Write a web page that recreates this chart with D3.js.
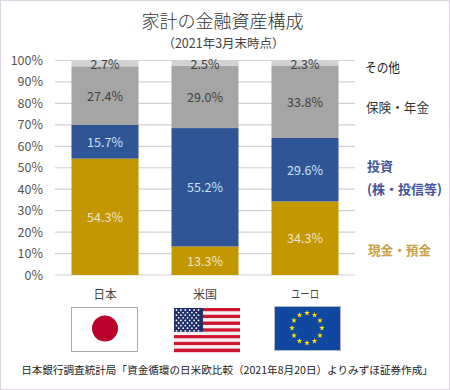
<!DOCTYPE html>
<html><head><meta charset="utf-8">
<script src="https://cdn.jsdelivr.net/npm/d3@7"></script>
<style>html,body{margin:0;padding:0;background:#fff}svg{display:block}text{font-family:"Noto Sans CJK JP","Noto Sans",sans-serif}</style>
</head><body><div id="c"></div>
<script>
const countries = ["日本","米国","ユーロ"];
const seriesKeys = ["現金・預金","投資","保険・年金","その他"];
const cash = [54.3,13.3,34.3];
const invest = [15.7,55.2,29.6];
const insurance = [27.4,29.0,33.8];
const other = [2.7,2.5,2.3];
const colors = ["#C29700","#2F5597","#A5A5A5","#D2D2D2"];
const labelColors = ["#F0E6C8","#CFE0F2","#404040","#404040"];
const yTicks = [0,10,20,30,40,50,60,70,80,90,100];
const euStars = d3.range(12);

const W=450,H=390;
const svg=d3.select("#c").append("svg").attr("width",W).attr("height",H);
svg.append("rect").attr("x",0.5).attr("y",0.5).attr("width",W-1).attr("height",H-1)
  .attr("fill","#fff").attr("stroke","#b9a9c4").attr("stroke-dasharray","1 1");

svg.append("text").attr("x",222.5).attr("y",28).attr("text-anchor","middle").attr("font-size",18).attr("font-weight",300).attr("fill","#333").text("家計の金融資産構成");
svg.append("text").attr("x",223.5).attr("y",47.5).attr("text-anchor","middle").attr("font-size",12.5).attr("fill","#444").text("（2021年3月末時点）");

const x=d3.scaleBand().domain(countries).range([55,355]).paddingInner(0.33).paddingOuter(0.165);
const y=d3.scaleLinear().domain([0,100]).range([275,60.5]);

const axis=svg.append("g").attr("transform","translate(55,0)")
  .call(d3.axisLeft(y).tickValues(yTicks).tickFormat(d=>d+"%").tickSize(0).tickPadding(12));
axis.select(".domain").remove();
axis.selectAll("text").attr("font-size",12.5).attr("fill","#555");

svg.append("g").selectAll("line").data(yTicks).join("line")
  .attr("x1",55).attr("x2",355).attr("y1",d=>y(d)).attr("y2",d=>y(d))
  .attr("stroke","#d3d0d3").attr("stroke-width",1.2);

const rows=countries.map((c,i)=>({c,"現金・預金":cash[i],"投資":invest[i],"保険・年金":insurance[i],"その他":other[i]}));
const stack=d3.stack().keys(seriesKeys).offset(d3.stackOffsetExpand)(rows);
const fmt=v=>v.toFixed(1)+"%";
stack.forEach((s,si)=>{
  const g=svg.append("g");
  g.selectAll("rect").data(s).join("rect")
    .attr("x",d=>x(d.data.c)).attr("width",x.bandwidth())
    .attr("y",d=>y(d[1]*100)).attr("height",d=>y(d[0]*100)-y(d[1]*100))
    .attr("fill",colors[si]);
  g.selectAll("text").data(s).join("text")
    .attr("x",d=>x(d.data.c)+x.bandwidth()/2)
    .attr("y",d=>y((d[0]+d[1])*50)+ (si===3?1.5:0.7))
    .attr("dy","0.36em").attr("text-anchor","middle").attr("font-size",12.5)
    .attr("fill",labelColors[si]).text(d=>fmt(d.data[seriesKeys[si]]));
});

const countryLen=[23,24,28];
svg.append("g").selectAll("text").data(countries).join("text")
  .attr("x",d=>x(d)+x.bandwidth()/2).attr("y",299).attr("text-anchor","middle")
  .attr("font-size",12).attr("fill","#444")
  .attr("textLength",(d,i)=>countryLen[i]).attr("lengthAdjust","spacingAndGlyphs").text(d=>d);

const legend=[["その他",365,72,"#222",400,35],["保険・年金",366,112,"#333",400,63],["投資",367,171,"#44549b",700,26],["(株・投信等)",367,194,"#44549b",700,75],["現金・預金",368,255,"#c9a04a",700,63]];
svg.append("g").selectAll("text").data(legend).join("text")
  .attr("x",d=>d[1]).attr("y",d=>d[2]).attr("font-size",13).attr("fill",d=>d[3]).attr("font-weight",d=>d[4])
  .attr("textLength",d=>d[5]).attr("lengthAdjust","spacingAndGlyphs").text(d=>d[0]);

// flags
const fh=44, fw=66;
const fl=svg.append("g");
const fx=[71,174,274];
const fy=[307,308,306];
fl.append("rect").attr("x",fx[0]+.5).attr("y",fy[0]+.5).attr("width",fw).attr("height",fh).attr("fill","#fff").attr("stroke","#aaa");
fl.append("circle").attr("cx",fx[0]+34).attr("cy",fy[0]+21.5).attr("r",13).attr("fill","#BC002D");
const stripes=d3.range(13);
const sh=fh/13;
fl.selectAll(".st").data(stripes).join("rect").attr("x",fx[1]).attr("width",fw)
  .attr("y",d=>fy[1]+d*sh).attr("height",sh+.2).attr("fill",d=>d%2?"#f4f0f4":"#D0152F");
fl.append("rect").attr("x",fx[1]).attr("y",fy[1]).attr("width",29).attr("height",sh*7).attr("fill","#1E2F6B");
const usStars=d3.range(50).map(i=>{const rowSize=[6,5];let r=0,n=i;while(n>=rowSize[r%2]){n-=rowSize[r%2];r++;}return{r,n};});
fl.selectAll(".us").data(usStars).join("circle").attr("r",0.9).attr("fill","#fff")
  .attr("cx",d=>fx[1]+2.5+(d.n*2+(d.r%2))*2.2).attr("cy",d=>fy[1]+2+d.r*2.6);
fl.append("rect").attr("x",fx[2]+.5).attr("y",fy[2]+.5).attr("width",fw).attr("height",fh).attr("fill","#0F47A1").attr("stroke","#b5b5c5");
const star=d3.symbol().type(d3.symbolStar).size(10);
fl.selectAll(".eu").data(euStars).join("path").attr("d",star).attr("fill","#FFE900")
  .attr("transform",d=>{const a=d*Math.PI/6;return `translate(${fx[2]+33+Math.sin(a)*15},${fy[2]+22-Math.cos(a)*15})`;});

svg.append("text").attr("x",227).attr("y",374).attr("text-anchor","middle").attr("font-size",10.6).attr("fill","#222")
  .text("日本銀行調査統計局「資金循環の日米欧比較（2021年8月20日）よりみずほ証券作成」");
</script></body></html>
